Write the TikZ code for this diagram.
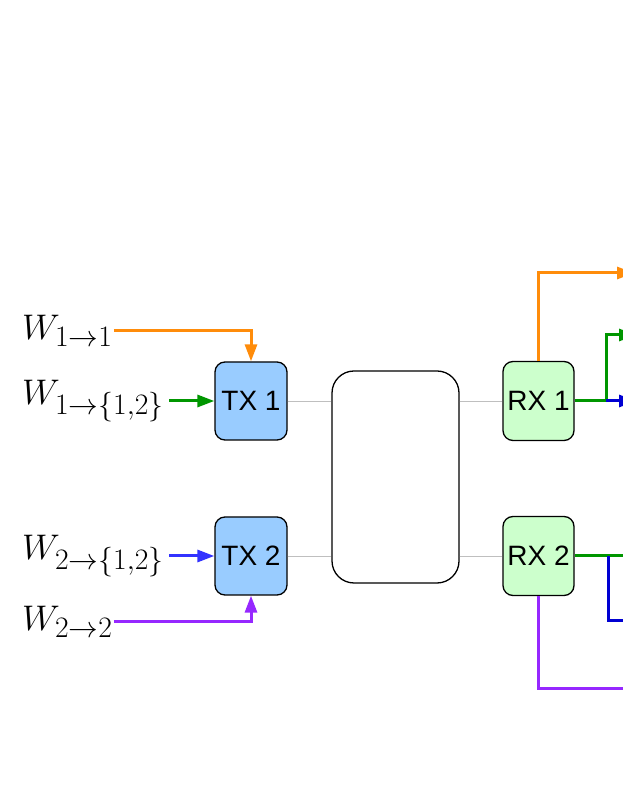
\documentclass[tikz,border=0pt]{standalone}
\usepackage{amsmath}
\usepackage{fontspec}
\setsansfont{Liberation Sans}
\usepackage{tikz}
\usetikzlibrary{positioning, arrows.meta}
\definecolor{txblue}{RGB}{153,204,255}
\definecolor{rxgreen}{RGB}{204,255,204}
\definecolor{sorange}{RGB}{255,140,10}
\definecolor{sgreen}{RGB}{0,150,0}
\definecolor{sblue}{RGB}{50,50,255}
\definecolor{dblue}{RGB}{0,0,210}
\definecolor{spurple}{RGB}{150,40,255}
\newcommand{\msgtext}[1]{\scalebox{1.43}{$#1$}}
\tikzstyle{txblock} = [rectangle, draw, line width=1.3pt, fill=txblue, minimum width=72pt, minimum height=78pt, rounded corners=10pt, font=\sffamily\fontsize{28}{32}\selectfont]
\tikzstyle{rxblock} = [txblock, fill=rxgreen, minimum width=71pt, minimum height=79pt]
\tikzstyle{chan} = [rectangle, draw, line width=1.3pt, minimum width=127pt, minimum height=212pt, rounded corners=22pt]
\tikzstyle{msg} = [inner sep=1pt, anchor=west, font=\fontsize{24.88}{30}\selectfont]
\tikzstyle{wire} = [draw, black!25, line width=0.8pt]
\tikzstyle{line} = [draw, line width=3pt, -{Triangle[length=17pt, width=12pt]}]
\tikzstyle{seg} = [draw, line width=3pt]

\begin{document}
\begin{tikzpicture}[x=1pt, y=1pt, node distance=155pt]
        \useasboundingbox (0,0) rectangle (623,806);
        \clip (0,0) rectangle (623,806);

        % Nodes
        \node (tx1) [txblock] at (251,405) {TX 1};
        \node (tx2) [txblock, below of=tx1] {TX 2};
        \node (chan) [chan] at (395.5,329) {};
        \node (rx1) [rxblock] at (538.5,405) {RX 1};
        \node (rx2) [rxblock, below of=rx1] {RX 2};

        \node (w11) [msg] at (21,475) {\msgtext{W_{1\to1}}};
        \node (w112) [msg] at (21,405) {\msgtext{W_{1\to\{1,2\}}}};
        \node (w212) [msg] at (21,250) {\msgtext{W_{2\to\{1,2\}}}};
        \node (w22) [msg] at (21,184) {\msgtext{W_{2\to2}}};

        % Outputs (cut by the page edge)
        \coordinate (br1) at (606,405);
        \coordinate (br2) at (608,250);
        \coordinate (o11) at (634,533);
        \coordinate (o112) at (636,471);
        \coordinate (o1b) at (636,405);
        \coordinate (o212) at (640,250);
        \coordinate (o2b) at (640,185);
        \coordinate (o22) at (660,117);

        % Edges
        \path [wire] (tx1) -- (chan.west |- tx1);
        \path [wire] (tx2) -- (chan.west |- tx2);
        \path [wire] (chan.east |- rx1) -- (rx1);
        \path [wire] (chan.east |- rx2) -- (rx2);

        \path [line, sorange] (w11.east) -| (tx1.north);
        \path [line, sgreen] ([xshift=4pt]w112.east) -- (tx1.west);
        \path [line, sblue] ([xshift=4pt]w212.east) -- (tx2.west);
        \path [line, spurple] (w22.east) -| (tx2.south);

        \path [line, sorange] (rx1.north) |- (o11);
        \path [seg, sgreen] (rx1.east) -- (br1);
        \path [line, sgreen] (br1) |- (o112);
        \path [line, dblue] (br1) -- (o1b);

        \path [line, sgreen] (rx2.east) -- (o212);
        \path [line, dblue] (br2) |- (o2b);
        \path [line, spurple] (rx2.south) |- (o22);
\end{tikzpicture}
\end{document}
